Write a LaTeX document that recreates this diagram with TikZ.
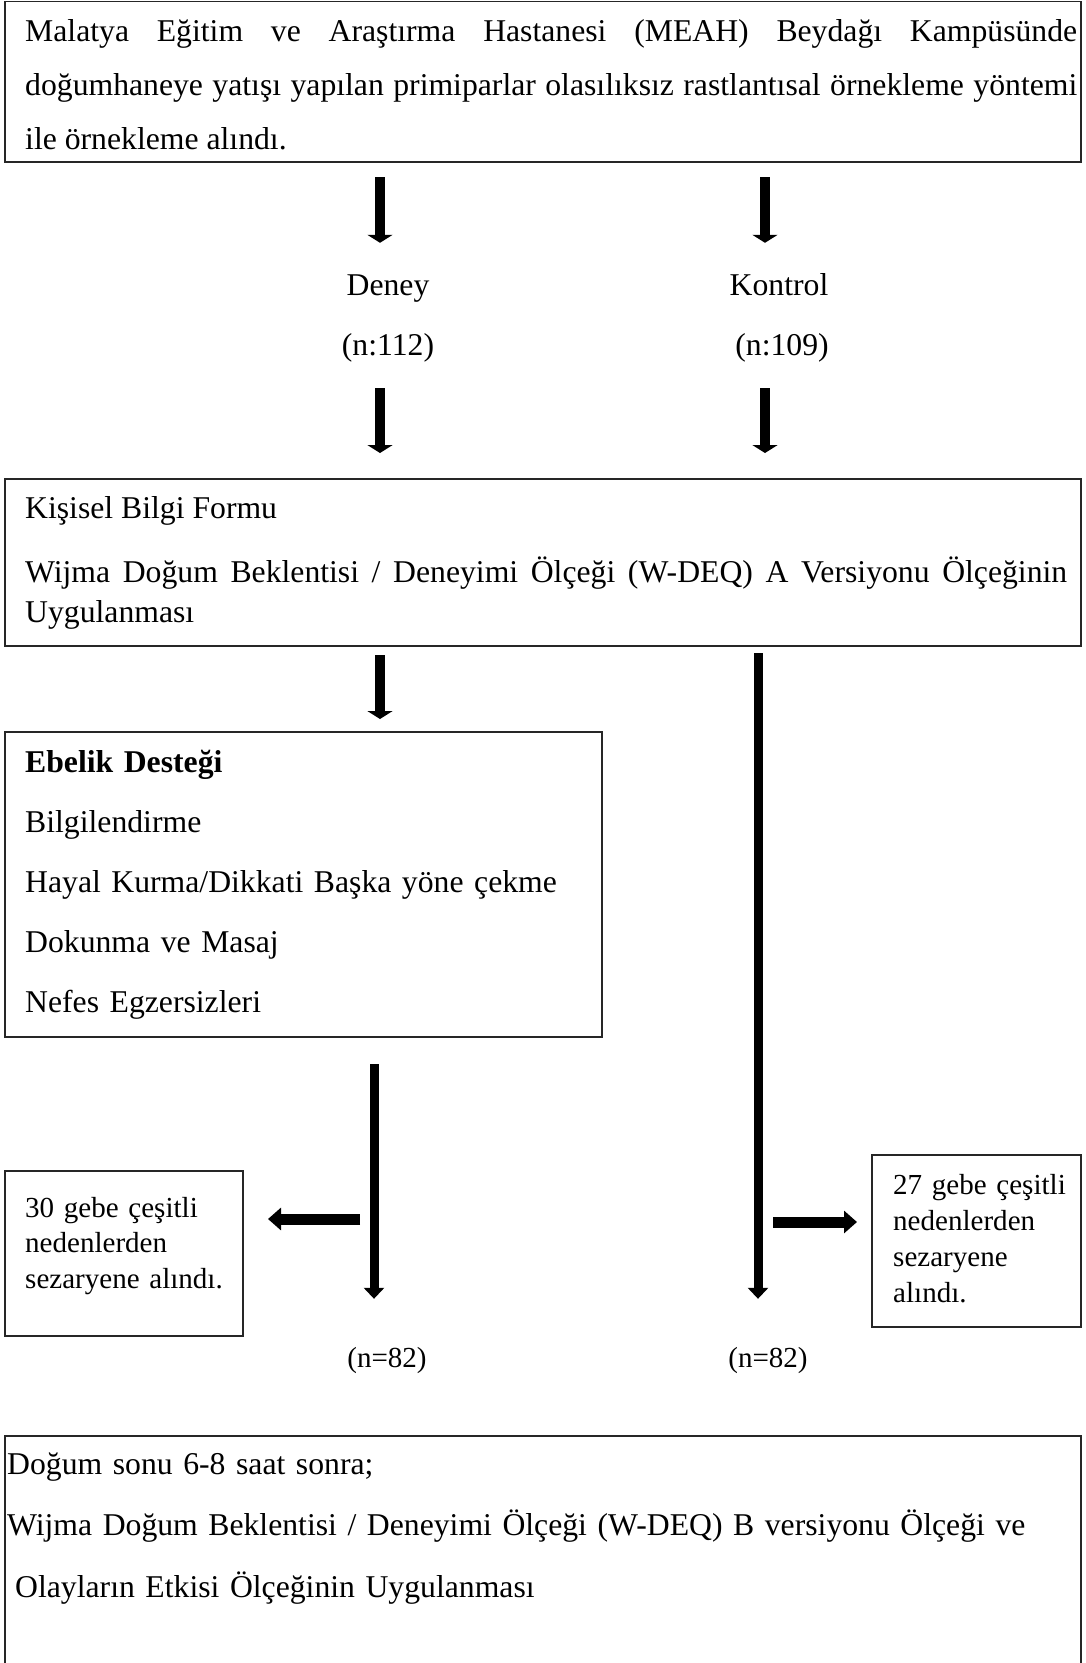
\documentclass[tikz,border=0pt]{standalone}
\usepackage{fontspec}
\setmainfont{Liberation Serif}
\usetikzlibrary{arrows.meta}
\hyphenpenalty=10000
\exhyphenpenalty=10000

\begin{document}
\begin{tikzpicture}[x=1pt,y=-1pt,
  box/.style={draw=black!85,line width=1.3pt,outer sep=0pt,inner sep=0pt,anchor=north west},
  txt/.style={inner sep=0pt,anchor=base west,align=left},
  lbl/.style={inner sep=0pt,anchor=base,font=\fontsize{31.7}{38}\selectfont,text height=22pt,text depth=6pt},
  smalllbl/.style={lbl,font=\fontsize{29.05}{36}\selectfont,text height=20pt,text depth=5pt},
  shortarrow/.style={line width=10pt,-{Triangle[width=25pt,length=8pt]}},
  longarrow/.style={line width=9pt,-{Triangle[width=20pt,length=11pt]}},
  sidearrow/.style={line width=11pt,-{Triangle[width=22pt,length=13pt]}}]
\useasboundingbox (0,0) rectangle (1086,1663);

\node[box,minimum width=1076pt,minimum height=160.5pt] (meah) at (5,1.5) {};
\node[txt,text width=1052pt,align=justify,font=\fontsize{31.7}{54}\selectfont] (meahtxt) at (25,41)
  {Malatya Eğitim ve Araştırma Hastanesi (MEAH) Beydağı Kampüsünde doğumhaneye yatışı yapılan primiparlar olasılıksız rastlantısal örnekleme yöntemi ile örnekleme alındı.};

\node[lbl] (deney) at (388,295) {Deney};
\node[lbl] (n112) at (388,355) {(n:112)};
\node[lbl] (kontrol) at (779,295) {Kontrol};
\node[lbl] (n109) at (782,355) {(n:109)};

\node[box,minimum width=1076pt,minimum height=167pt] (olcek) at (5,479) {};
\node[txt,text width=1042pt,align=justify,font=\fontsize{31.7}{40}\selectfont] (olcektxt) at (25,518)
  {Kişisel Bilgi Formu\\[24pt]Wijma Doğum Beklentisi / Deneyimi Ölçeği (W-DEQ) A Versiyonu Ölçeğinin Uygulanması};

\node[box,minimum width=597pt,minimum height=305pt] (destek) at (5,732) {};
\node[txt,text width=570pt,font=\fontsize{31.7}{60}\selectfont] (destektxt) at (25,772)
  {\textbf{Ebelik Desteği}\\Bilgilendirme\\Hayal Kurma/Dikkati Başka yöne çekme\\Dokunma ve Masaj\\Nefes Egzersizleri};

\node[box,minimum width=238pt,minimum height=165pt] (sezl) at (5,1171) {};
\node[txt,text width=215pt,font=\fontsize{29.05}{35.5}\selectfont] (sezltxt) at (25,1217)
  {30 gebe çeşitli\\nedenlerden\\sezaryene alındı.};
\node[box,minimum width=209pt,minimum height=172pt] (sezr) at (872,1155) {};
\node[txt,text width=185pt,font=\fontsize{29.05}{36.3}\selectfont] (sezrtxt) at (893,1194)
  {27 gebe çeşitli\\nedenlerden\\sezaryene\\alındı.};

\node[smalllbl] (n82l) at (387,1367) {(n=82)};
\node[smalllbl] (n82r) at (768,1367) {(n=82)};

\node[box,minimum width=1076pt,minimum height=260pt] (dogum) at (5,1436) {};
\node[txt,text width=1070pt,font=\fontsize{31.7}{61.5}\selectfont] (dogumtxt) at (7,1474)
  {Doğum sonu 6-8 saat sonra;\\Wijma Doğum Beklentisi / Deneyimi Ölçeği (W-DEQ) B versiyonu Ölçeği ve\\\hspace*{8pt}Olayların Etkisi Ölçeğinin Uygulanması};

\coordinate (lcol) at (380,0);
\coordinate (rcol) at (765,0);
\coordinate (llong) at (374,0);
\coordinate (rlong) at (758,0);
\coordinate (lsplit) at (360,1219);
\coordinate (rsplit) at (773,1222);

\draw[shortarrow,shorten <=15pt,shorten >=30pt] (meah.south -| lcol) -- (deney.north -| lcol);
\draw[shortarrow,shorten <=15pt,shorten >=30pt] (meah.south -| rcol) -- (kontrol.north -| rcol);
\draw[shortarrow,shorten <=27pt,shorten >=26pt] (n112.south -| lcol) -- (olcek.north -| lcol);
\draw[shortarrow,shorten <=27pt,shorten >=26pt] (n109.south -| rcol) -- (olcek.north -| rcol);
\draw[shortarrow,shorten <=9pt,shorten >=13pt] (olcek.south -| lcol) -- (destek.north -| lcol);
\draw[longarrow,shorten <=27pt,shorten >=48pt] (destek.south -| llong) -- (n82l.north -| llong);
\draw[longarrow,shorten <=7pt,shorten >=48pt] (olcek.south -| rlong) -- (n82r.north -| rlong);
\draw[sidearrow,shorten >=25pt] (lsplit) -- (lsplit -| sezl.east);
\draw[sidearrow,shorten >=15pt] (rsplit) -- (rsplit -| sezr.west);

\end{tikzpicture}
\end{document}
